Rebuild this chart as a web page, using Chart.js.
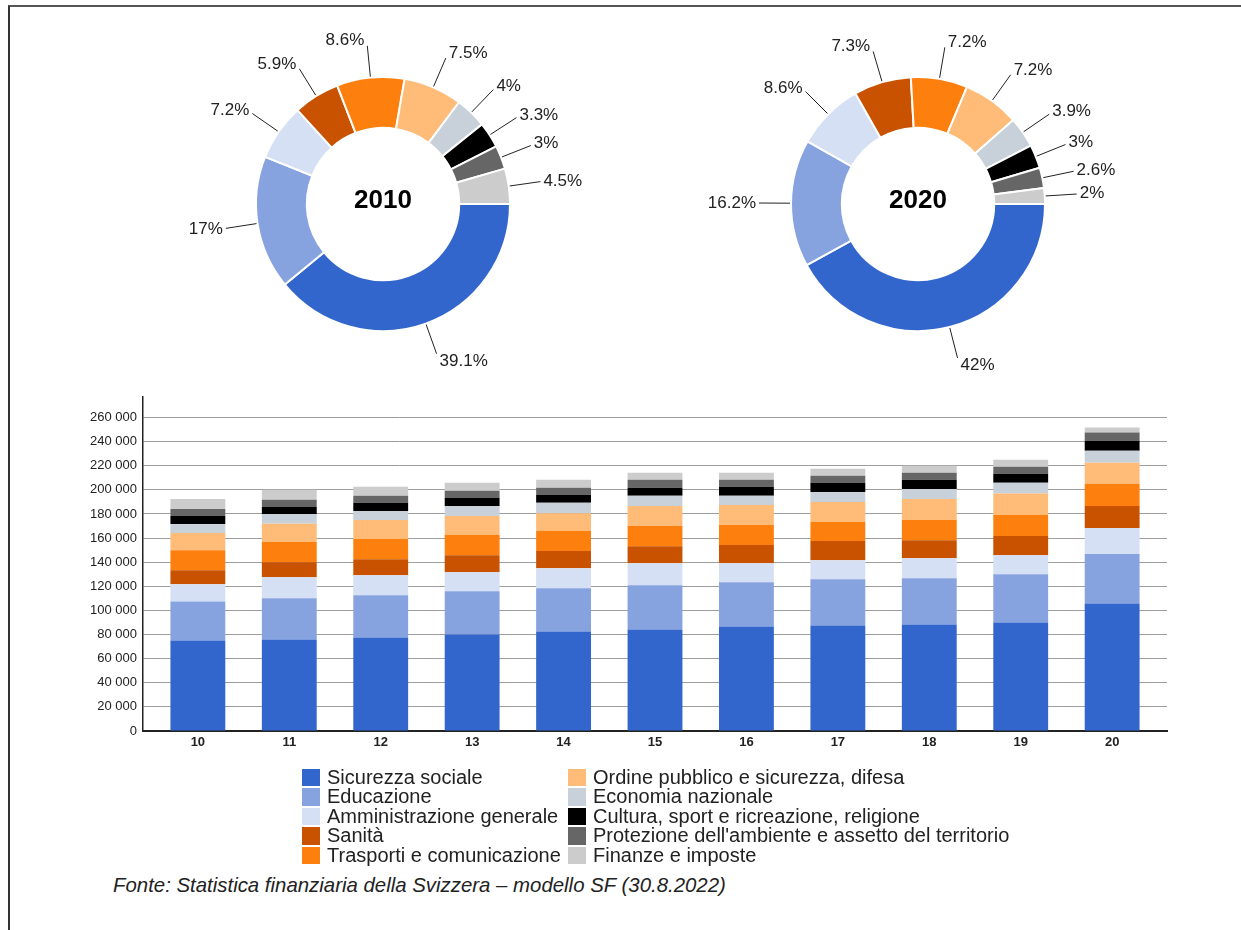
<!DOCTYPE html>
<html lang="it">
<head>
<meta charset="utf-8">
<title>Uscite per funzione</title>
<script src="https://cdn.jsdelivr.net/npm/chart.js@4.4.1/dist/chart.umd.min.js"></script>
<style>
  html, body { margin: 0; padding: 0; background: #fff; }
  body {
    width: 1241px; height: 930px; position: relative; overflow: hidden;
    font-family: "Liberation Sans", Arial, sans-serif; color: #222;
  }
  .frame {
    position: absolute; left: 8px; top: 5px; width: 1260px; height: 960px;
    border-top: 2px solid #555; border-left: 2px solid #333;
  }
  .pie { position: absolute; top: 24px; width: 480px; height: 360px; }
  #pie2010 { left: 143px; }
  #pie2020 { left: 678px; }
  #barsWrap { position: absolute; left: 0; top: 380px; width: 1241px; height: 390px; }
  #legend { position: absolute; left: 302px; top: 768px; display: flex; }
  #legend .col { display: flex; flex-direction: column; }
  #legend .col:first-child { width: 266px; }
  #legend .item {
    display: flex; align-items: center; height: 19.4px;
    font-size: 20px; line-height: 19.4px; white-space: nowrap;
  }
  #legend .swatch { width: 18px; height: 17.5px; margin-right: 7px; flex: none; }
  .source {
    position: absolute; left: 113px; top: 873px;
    font-size: 20.4px; font-style: italic; line-height: 24px; color: #222;
  }
</style>
</head>
<body>
<div class="frame"></div>
<div class="pie" id="pie2010"><canvas id="pieChart2010"></canvas></div>
<div class="pie" id="pie2020"><canvas id="pieChart2020"></canvas></div>
<div id="barsWrap"><canvas id="barChart"></canvas></div>
<div id="legend"></div>
<div class="source">Fonte: Statistica finanziaria della Svizzera – modello SF (30.8.2022)</div>

<script>
// Anni (asse x, 2010-2020)
const years = ['10', '11', '12', '13', '14', '15', '16', '17', '18', '19', '20'];
// tacche asse y
const yTicks = [0, 20000, 40000, 60000, 80000, 100000, 120000, 140000,
                160000, 180000, 200000, 220000, 240000, 260000];

const seriesNames = [
    'Sicurezza sociale',
    'Educazione',
    'Amministrazione generale',
    'Sanità',
    'Trasporti e comunicazione',
    'Ordine pubblico e sicurezza, difesa',
    'Economia nazionale',
    'Cultura, sport e ricreazione, religione',
    "Protezione dell'ambiente e assetto del territorio",
    'Finanze e imposte'
];

const seriesColors = ['#3366cc', '#86a3e0', '#d6e0f5', '#c95200', '#fd7f0e',
                      '#ffbb78', '#c8d0d9', '#000000', '#666666', '#cccccc'];

// Uscite per funzione
const sicurezzaSociale  = [75000, 75800, 77500, 80000, 82500, 84200, 86700, 87500, 88300, 90000, 105800];
const educazione        = [32500, 34200, 35000, 35800, 35800, 36600, 36600, 38300, 38400, 40000, 40900];
const amministrazione   = [14200, 17500, 16700, 15900, 16700, 18400, 15900, 15900, 16600, 15800, 21600];
const sanita            = [11600, 12500, 13300, 14100, 14200, 14100, 15000, 15800, 15000, 15900, 18400];
const trasporti         = [16700, 16700, 16700, 16700, 16600, 16700, 16600, 15800, 16700, 17500, 18300];
const ordinePubblico    = [14200, 15200, 15800, 15800, 14800, 16700, 16700, 16700, 17500, 17800, 17500];
const economia          = [7500, 8100, 7500, 8400, 8600, 8300, 7500, 8300, 8300, 8800, 10000];
const cultura           = [6600, 5800, 6700, 6600, 6600, 6700, 7500, 7500, 7500, 7500, 8300];
const protezione        = [5900, 5900, 5800, 5900, 5900, 6600, 5800, 5900, 5900, 5900, 6700];
const finanze           = [8300, 8300, 7500, 6600, 6600, 5900, 5900, 5800, 5800, 5800, 4200];

const seriesValues = [sicurezzaSociale, educazione, amministrazione, sanita, trasporti,
                      ordinePubblico, economia, cultura, protezione, finanze];

// Quote percentuali dei due anni (anelli)
const pieTitles = ['2010', '2020'];
const pie2010 = [39.1, 17, 7.2, 5.9, 8.6, 7.5, 4, 3.3, 3, 4.5];
const pie2020 = [42, 16.2, 8.6, 7.3, 7.2, 7.2, 3.9, 3, 2.6, 2];

const FONT = '"Liberation Sans", Arial, sans-serif';

// etichette con linee di richiamo + titolo al centro
const pieLabels = {
    id: 'pieLabels',
    afterDatasetsDraw(chart, args, opts) {
        const ctx = chart.ctx;
        const meta = chart.getDatasetMeta(0);
        const values = chart.data.datasets[0].data;
        ctx.save();
        ctx.strokeStyle = '#222';
        ctx.fillStyle = '#222';
        ctx.lineWidth = 1;
        ctx.font = '17px ' + FONT;
        ctx.textBaseline = 'middle';
        let cx = 0, cy = 0;
        meta.data.forEach((arc, i) => {
            const p = arc.getProps(['x', 'y', 'startAngle', 'endAngle', 'outerRadius'], true);
            cx = p.x; cy = p.y;
            const mid = (p.startAngle + p.endAngle) / 2;
            const dx = Math.cos(mid), dy = Math.sin(mid);
            const x1 = p.x + dx * (p.outerRadius + 1), y1 = p.y + dy * (p.outerRadius + 1);
            const x2 = p.x + dx * (p.outerRadius + 32), y2 = p.y + dy * (p.outerRadius + 32);
            ctx.beginPath();
            ctx.moveTo(x1, y1);
            ctx.lineTo(x2, y2);
            ctx.stroke();
            ctx.textAlign = dx >= 0 ? 'left' : 'right';
            ctx.fillText(values[i] + '%', x2 + (dx >= 0 ? 3 : -3), y2 + dy * (dy < 0 ? 5 : 8));
        });
        ctx.font = 'bold 26px ' + FONT;
        ctx.textAlign = 'center';
        ctx.fillStyle = '#000';
        ctx.fillText(opts.title, cx, cy - 3);
        ctx.restore();
    }
};

function makePie(canvasId, values, title) {
    return new Chart(document.getElementById(canvasId), {
        type: 'doughnut',
        data: {
            labels: seriesNames,
            datasets: [{
                data: values,
                backgroundColor: seriesColors,
                borderColor: '#fff',
                borderWidth: 2
            }]
        },
        options: {
            responsive: true,
            maintainAspectRatio: false,
            animation: false,
            events: [],
            cutout: '60%',
            rotation: 90,
            layout: { padding: { left: 112, right: 112, top: 52, bottom: 52 } },
            plugins: {
                legend: { display: false },
                tooltip: { enabled: false },
                pieLabels: { title: title }
            }
        },
        plugins: [pieLabels]
    });
}

makePie('pieChart2010', pie2010, pieTitles[0]);
makePie('pieChart2020', pie2020, pieTitles[1]);

// numeri con spazio come separatore delle migliaia
const fmt = v => String(v).replace(/\B(?=(\d{3})+(?!\d))/g, ' ');

new Chart(document.getElementById('barChart'), {
    type: 'bar',
    data: {
        datasets: seriesNames.map((name, s) => ({
            label: name,
            data: years.map((yr, i) => ({ x: Number(yr), y: seriesValues[s][i] })),
            backgroundColor: seriesColors[s],
            borderWidth: 0,
            barPercentage: 0.6,
            categoryPercentage: 1
        }))
    },
    options: {
        responsive: true,
        maintainAspectRatio: false,
        animation: false,
        events: [],
        layout: { padding: { left: 0, right: 74, top: 17, bottom: 0 } },
        plugins: {
            legend: { display: false },
            tooltip: { enabled: false }
        },
        scales: {
            x: {
                type: 'linear',
                stacked: true,
                offset: false,
                min: 9.4,
                max: 20.6,
                grid: { display: false, drawTicks: false },
                border: { color: '#222', width: 2 },
                ticks: {
                    autoSkip: false,
                    maxRotation: 0,
                    padding: 4,
                    color: '#222',
                    font: { family: FONT, size: 13, weight: 'bold' },
                    callback: v => String(v)
                },
                afterBuildTicks: s => {
                    s.ticks = years.map(yr => ({ value: Number(yr) }));
                },
                afterFit: s => { s.height = 39; }
            },
            y: {
                stacked: true,
                min: 0,
                max: 277000,
                grid: { color: '#9e9e9e', lineWidth: 1, drawTicks: false },
                border: { color: '#222', width: 1.5 },
                ticks: {
                    autoSkip: false,
                    padding: 6,
                    color: '#222',
                    font: { family: FONT, size: 13 },
                    callback: v => fmt(v)
                },
                afterBuildTicks: s => {
                    s.ticks = yTicks.map(v => ({ value: v }));
                },
                afterFit: s => { s.width = 143; }
            }
        }
    }
});

// Legenda in due colonne (5 voci ciascuna)
const legend = document.getElementById('legend');
[0, 5].forEach(start => {
    const col = document.createElement('div');
    col.className = 'col';
    seriesNames.slice(start, start + 5).forEach((name, k) => {
        const item = document.createElement('div');
        item.className = 'item';
        const sw = document.createElement('span');
        sw.className = 'swatch';
        sw.style.background = seriesColors[start + k];
        const txt = document.createElement('span');
        txt.textContent = name;
        item.appendChild(sw);
        item.appendChild(txt);
        col.appendChild(item);
    });
    legend.appendChild(col);
});
</script>
</body>
</html>
